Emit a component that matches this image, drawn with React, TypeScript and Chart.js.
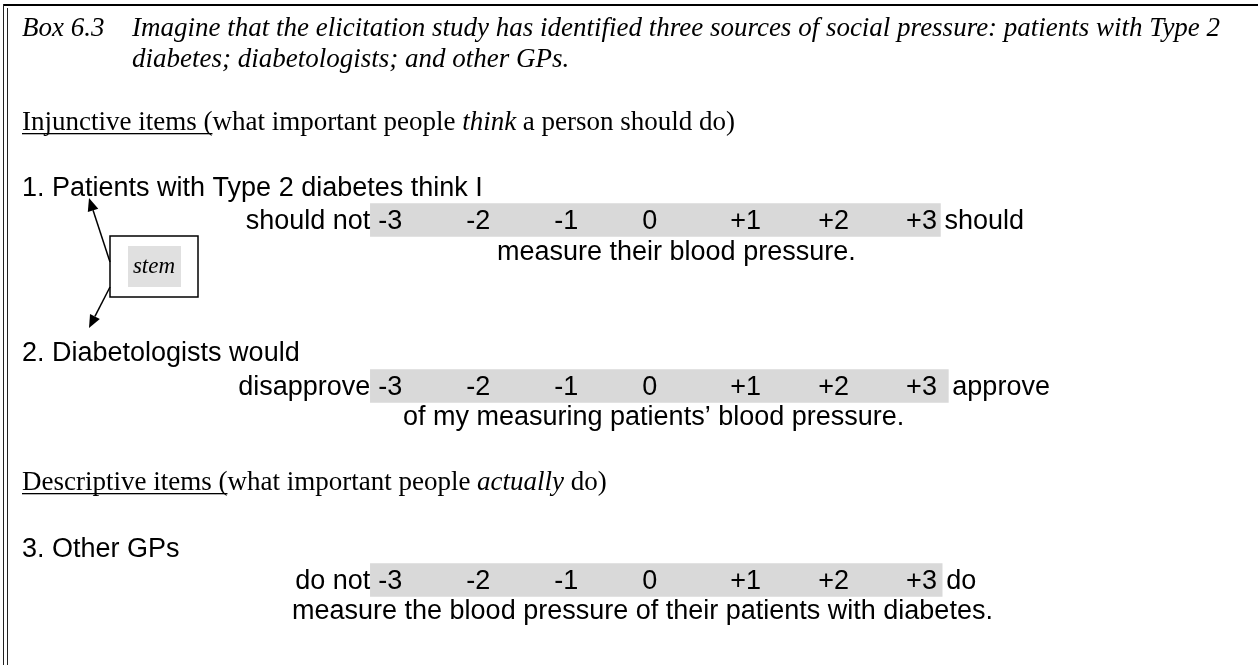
import React, { useEffect, useRef } from "react";
import { Chart, registerables } from "chart.js";

Chart.register(...registerables);

// ---------- data ----------
const scaleValues = [-3, -2, -1, 0, 1, 2, 3];
const scaleLabels = ["-3", "-2", "-1", "0", "+1", "+2", "+3"];
const itemStems = [
  "1. Patients with Type 2 diabetes think I",
  "2. Diabetologists would",
  "3. Other GPs",
];
const leftAnchors = ["should not", "disapprove", "do not"];
const rightAnchors = ["should", "approve", "do"];
const completions = [
  "measure their blood pressure.",
  "of my measuring patients\u2019 blood pressure.",
  "measure the blood pressure of their patients with diabetes.",
];
const bandStart = [-3.09, -3.09, -3.09];
const bandEnd = [3.39, 3.48, 3.41];

// ---------- layout ----------
const W = 1258;
const H = 665;
const X_MIN = -7.3;
const X_MAX = 7.0;
const rowCenter = [220, 386, 580];
const stemBaseline = [196, 361, 557];
const completionBaseline = [260, 425, 619];
const completionX = [497, 403, 292];
const BAND_H = 33;
const SANS = "'Liberation Sans', Arial, sans-serif";
const SERIF = "'Liberation Serif', 'Times New Roman', serif";
const FS = 27;

type Run = { t: string; italic?: boolean; underline?: boolean };

function drawRuns(ctx: CanvasRenderingContext2D, runs: Run[], x: number, y: number, family: string, size: number) {
  let cx = x;
  ctx.textAlign = "left";
  ctx.textBaseline = "alphabetic";
  for (const r of runs) {
    ctx.font = `${r.italic ? "italic " : ""}${size}px ${family}`;
    const w = ctx.measureText(r.t).width;
    ctx.fillText(r.t, cx, y);
    if (r.underline) {
      ctx.fillRect(cx, y + 3, w, 1.3);
    }
    cx += w;
  }
}

function arrow(ctx: CanvasRenderingContext2D, x0: number, y0: number, x1: number, y1: number) {
  const ang = Math.atan2(y1 - y0, x1 - x0);
  const L = 13;
  const Wd = 5.5;
  const bx = x1 - L * Math.cos(ang);
  const by = y1 - L * Math.sin(ang);
  ctx.beginPath();
  ctx.moveTo(x0, y0);
  ctx.lineTo(bx, by);
  ctx.lineWidth = 1.5;
  ctx.stroke();
  ctx.beginPath();
  ctx.moveTo(x1, y1);
  ctx.lineTo(bx + Wd * Math.sin(ang), by - Wd * Math.cos(ang));
  ctx.lineTo(bx - Wd * Math.sin(ang), by + Wd * Math.cos(ang));
  ctx.closePath();
  ctx.fill();
}

const docPlugin = {
  id: "docText",
  beforeDraw(chart: any) {
    const ctx = chart.ctx as CanvasRenderingContext2D;
    ctx.save();
    ctx.fillStyle = "#ffffff";
    ctx.fillRect(0, 0, chart.width, chart.height);
    ctx.restore();
  },
  afterDatasetsDraw(chart: any) {
    const ctx = chart.ctx as CanvasRenderingContext2D;
    const xs = chart.scales.x;
    const ys = chart.scales.y;
    ctx.save();
    ctx.fillStyle = "#000";
    ctx.strokeStyle = "#000";

    // box border
    ctx.fillRect(3, 4, W - 3, 2);
    ctx.fillStyle = "#222";
    ctx.fillRect(3, 4, 1, H);
    ctx.fillRect(7, 8, 1, H);
    ctx.fillStyle = "#000";

    // heading
    drawRuns(ctx, [{ t: "Box 6.3", italic: true }], 22, 36, SERIF, FS);
    drawRuns(ctx, [{ t: "Imagine that the elicitation study has identified three sources of social pressure: patients with Type 2", italic: true }], 132, 36, SERIF, FS);
    drawRuns(ctx, [{ t: "diabetes; diabetologists; and other GPs.", italic: true }], 132, 67, SERIF, FS);

    drawRuns(ctx, [
      { t: "Injunctive items (", underline: true },
      { t: "what important people " },
      { t: "think", italic: true },
      { t: " a person should do)" },
    ], 22, 130, SERIF, FS);

    drawRuns(ctx, [
      { t: "Descriptive items (", underline: true },
      { t: "what important people " },
      { t: "actually", italic: true },
      { t: " do)" },
    ], 22, 490, SERIF, FS);

    // rows
    ctx.font = `${FS}px ${SANS}`;
    for (let i = 0; i < itemStems.length; i++) {
      const cy = ys.getPixelForValue(rowCenter[i]);
      const base = cy + 9;
      ctx.textAlign = "left";
      ctx.fillText(itemStems[i], 22, stemBaseline[i]);
      const x0 = xs.getPixelForValue(bandStart[i]);
      const x1 = xs.getPixelForValue(bandEnd[i]);
      ctx.textAlign = "right";
      ctx.fillText(leftAnchors[i], x0, base);
      ctx.textAlign = "left";
      ctx.fillText(rightAnchors[i], x1 + 4, base);
      for (let k = 0; k < scaleValues.length; k++) {
        ctx.fillText(scaleLabels[k], xs.getPixelForValue(scaleValues[k]), base);
      }
      ctx.fillText(completions[i], completionX[i], completionBaseline[i]);
    }

    // stem callout
    ctx.fillStyle = "#e0e0e0";
    ctx.fillRect(128, 246, 53, 41);
    ctx.lineWidth = 1.5;
    ctx.strokeStyle = "#000";
    ctx.strokeRect(110, 236, 88, 61);
    ctx.fillStyle = "#000";
    ctx.font = `italic 23px ${SERIF}`;
    ctx.textAlign = "center";
    ctx.fillText("stem", 154, 273);
    arrow(ctx, 110, 262, 89, 198);
    arrow(ctx, 110, 287, 89, 328);

    ctx.restore();
  },
};

export default function App() {
  const ref = useRef<HTMLCanvasElement | null>(null);
  useEffect(() => {
    if (!ref.current) return;
    const chart = new Chart(ref.current, {
      type: "bar",
      data: {
        datasets: [
          {
            label: "scale",
            indexAxis: "y",
            data: rowCenter.map((y, i) => ({ x: [bandStart[i], bandEnd[i]], y })) as any,
            backgroundColor: "#d9d9d9",
            borderWidth: 0,
            barThickness: BAND_H,
            grouped: false,
          } as any,
        ],
      },
      options: {
        indexAxis: "y",
        responsive: false,
        animation: false,
        devicePixelRatio: 1,
        layout: { padding: 0 },
        plugins: { legend: { display: false }, tooltip: { enabled: false } },
        events: [],
        scales: {
          x: { type: "linear", min: X_MIN, max: X_MAX, display: false, offset: false },
          y: { type: "linear", min: 0, max: H, reverse: true, display: false, offset: false },
        },
      },
      plugins: [docPlugin],
    });
    return () => chart.destroy();
  }, []);
  return (
    <div style={{ position: "fixed", left: 0, top: 0, width: W, height: H, background: "#fff" }}>
      <canvas ref={ref} width={W} height={H} style={{ width: W, height: H, display: "block" }} />
    </div>
  );
}
